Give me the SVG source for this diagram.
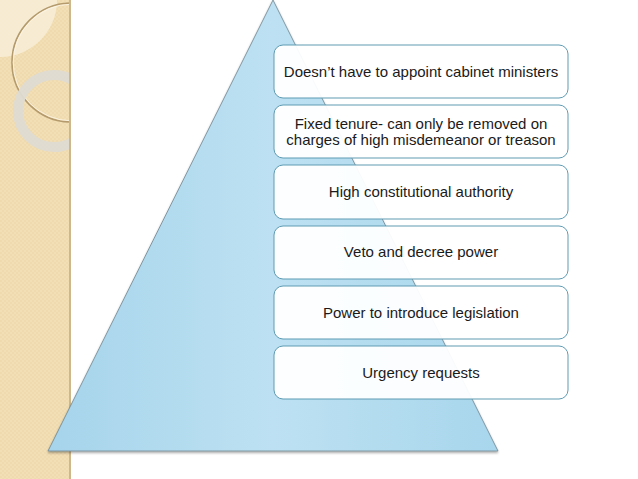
<svg xmlns="http://www.w3.org/2000/svg" width="638" height="479" viewBox="0 0 638 479">
  <defs>
    <linearGradient id="tri" x1="0" y1="0" x2="1" y2="0">
      <stop offset="0" stop-color="#a6d4eb"/>
      <stop offset="0.5" stop-color="#bde1f2"/>
      <stop offset="1" stop-color="#a8d6ec"/>
    </linearGradient>
    <pattern id="chk" width="4" height="4" patternUnits="userSpaceOnUse">
      <rect width="4" height="4" fill="#f2dfb6"/>
      <rect width="2" height="2" fill="#efdaad"/>
      <rect x="2" y="2" width="2" height="2" fill="#efdaad"/>
    </pattern>
    <clipPath id="strip"><rect x="0" y="0" width="70" height="479"/></clipPath>
    <filter id="sh" x="-10%" y="-10%" width="120%" height="120%">
      <feDropShadow dx="0" dy="1.5" stdDeviation="1.2" flood-color="#000" flood-opacity="0.35"/>
    </filter>
  </defs>
  <style>
    .box { fill: #ffffff; fill-opacity: 0.95; stroke: #5f9bb3; stroke-width: 1; }
    .lbl { font-family: "Liberation Sans", Arial, sans-serif; font-size: 15px; fill: #1a1a1a; text-anchor: middle; }
  </style>
  <rect width="638" height="479" fill="#ffffff"/>

  <!-- left decorative strip -->
  <g id="strip-deco">
    <rect x="0" y="0" width="70" height="479" fill="url(#chk)"/>
    <g clip-path="url(#strip)">
      <path d="M0,0 H57 A57,57 0 0 1 0,57 Z" fill="#f8eed8" opacity="0.85"/>
      <circle cx="71.5" cy="62.5" r="59.5" fill="none" stroke="#b49a6c" stroke-width="1.6"/>
      <circle cx="71.5" cy="62.5" r="58.3" fill="none" stroke="#fbf6ea" stroke-width="0.8"/>
      <circle cx="54" cy="111" r="36" fill="none" stroke="#dedbd3" stroke-width="10" opacity="0.95"/>
    </g>
    <rect x="69" y="0" width="2" height="479" fill="#cdb88e"/>
  </g>

  <!-- pyramid -->
  <g id="pyramid">
    <polygon points="273,0 498,451 48,451" fill="url(#tri)" stroke="#6f8590" stroke-width="0.8" filter="url(#sh)"/>
  </g>

  <g id="connectors"></g>

  <g id="n1"><rect class="box" x="274" y="45" width="294" height="53" rx="9"/>
    <text class="lbl" x="421" y="77">Doesn’t have to appoint cabinet ministers</text></g>
  <g id="n2"><rect class="box" x="274" y="105" width="294" height="53" rx="9"/>
    <text class="lbl" x="421" y="129">Fixed tenure- can only be removed on</text>
    <text class="lbl" x="421" y="145">charges of high misdemeanor or treason</text></g>
  <g id="n3"><rect class="box" x="274" y="165" width="294" height="54" rx="9"/>
    <text class="lbl" x="421" y="197">High constitutional authority</text></g>
  <g id="n4"><rect class="box" x="274" y="226" width="294" height="53" rx="9"/>
    <text class="lbl" x="421" y="257">Veto and decree power</text></g>
  <g id="n5"><rect class="box" x="274" y="286" width="294" height="53" rx="9"/>
    <text class="lbl" x="421" y="318">Power to introduce legislation</text></g>
  <g id="n6"><rect class="box" x="274" y="346" width="294" height="53" rx="9"/>
    <text class="lbl" x="421" y="378">Urgency requests</text></g>
</svg>
